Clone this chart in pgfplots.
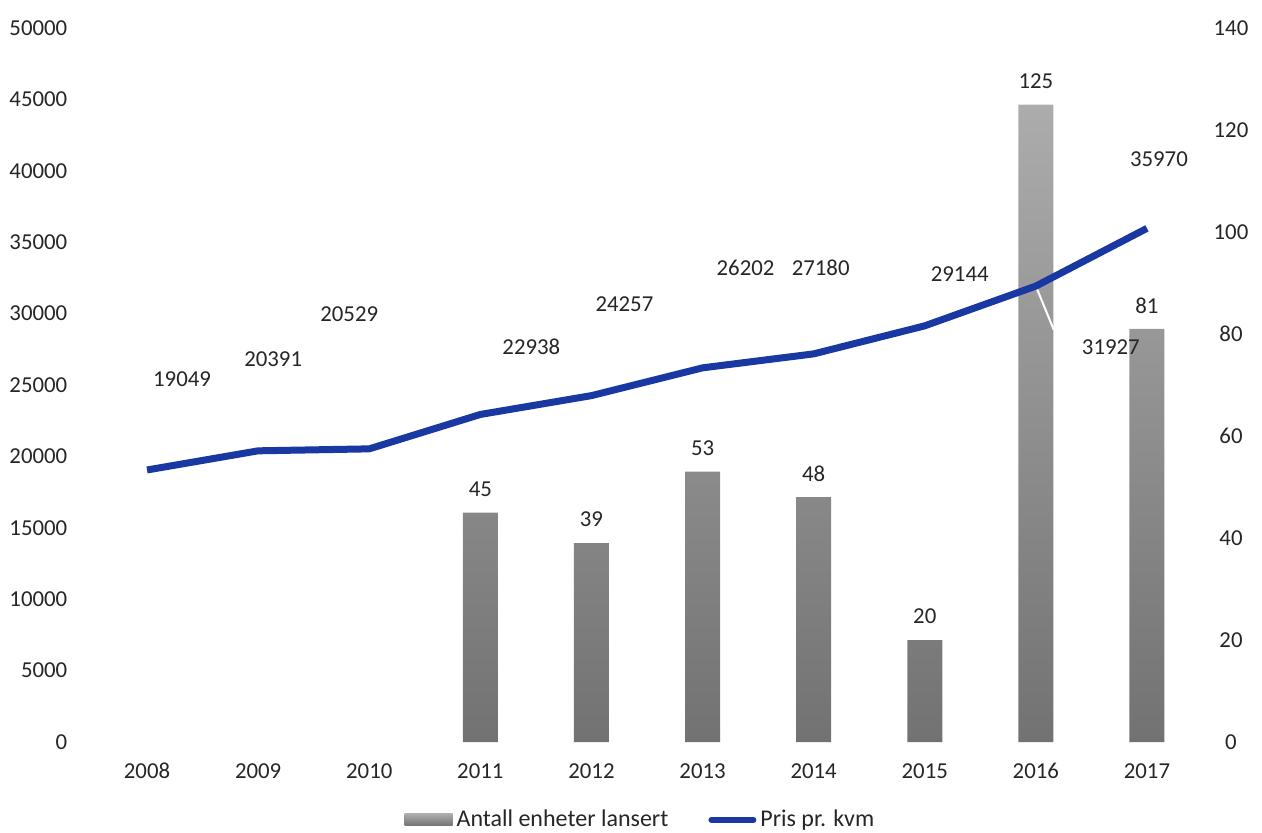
\documentclass[border=0pt]{standalone}
\usepackage{pgfplots}
\usepackage{pgfplotstable}
\pgfplotsset{compat=1.18}
\usepackage{fontspec}
\setmainfont{Carlito}
\definecolor{linecol}{RGB}{26,56,162}
\definecolor{bartop}{RGB}{172,172,172}
\definecolor{barbot}{RGB}{114,114,114}
\definecolor{txt}{RGB}{38,38,38}

\pgfplotstableread{
x y dx dy
0 19049 17.5 45.5
1 20391 7.5 46
2 20529 -10 67.5
3 22938 25.5 34
4 24257 16.5 45.5
5 26202 21.5 50
6 27180 3.5 43
7 29144 17.5 26
8 31927 37.5 -30.5
9 35970 6 34.5
}\pristable

\pgfplotstableread{
x n
3 45
4 39
5 53
6 48
7 20
8 125
9 81
}\bartable

\newcommand{\lblfont}{\fontsize{11.4}{13}\selectfont}
\newcommand{\legfont}{\fontsize{12}{14}\selectfont}

\begin{document}
\begin{tikzpicture}
\useasboundingbox (0,0) rectangle (631pt,416pt);
\pgfplotsset{common/.style={
  scale only axis, width=555.5pt, height=357pt,
  at={(45.75pt,45pt)}, anchor=south west,
  xmin=-0.5, xmax=9.5,
  axis line style={draw=none},
  major tick length=0pt,
  tick label style={font=\lblfont, text=txt},
  /pgf/number format/assume math mode=true,
  /pgf/number format/1000 sep={},
  scaled ticks=false,
}}
% bars on right axis
\begin{axis}[common,
  axis y line*=right, axis x line=none,
  ymin=0, ymax=140, ytick={0,20,...,140},
  yticklabel style={anchor=center, xshift=14.25pt},
]
\addplot[ybar, bar width=17.5pt, draw=none, top color=bartop, bottom color=barbot,
  nodes near coords,
  nodes near coords style={anchor=center, yshift=11.75pt, text=txt, font=\lblfont}]
  table[x=x, y=n]{\bartable};
\end{axis}
% line on left axis
\begin{axis}[common,
  axis y line*=left, axis x line*=bottom,
  ymin=0, ymax=50000, ytick={0,5000,...,50000},
  xtick={0,...,9},
  xticklabels={2008,2009,2010,2011,2012,2013,2014,2015,2016,2017},
  yticklabel style={anchor=east, xshift=-8.6pt},
  xticklabel style={anchor=north, yshift=-7.3pt, text height=7.2pt, text depth=0pt},
  legend columns=2,
  legend style={at={(0.495,-0.109)}, anchor=center, draw=none, fill=none,
    font=\legfont, text=txt,
    /tikz/every even column/.append style={column sep=18pt}},
]
\addlegendimage{legend image code/.code={\shade[draw=none, top color=bartop, bottom color=barbot] (0pt,-3pt) rectangle (24pt,3pt);}}
\addlegendentry{Antall enheter lansert}
\draw[white, line width=1pt] (axis cs:8,31927) -- (axis cs:8.162,28852);
\addplot[linecol, line width=3.5pt, line join=round, mark=none,
  legend image code/.code={\draw[linecol, line width=3pt, line cap=round] (0pt,0pt) -- (21pt,0pt);},
  nodes near coords,
  visualization depends on={\thisrow{dx} \as \dx},
  visualization depends on={\thisrow{dy} \as \dy},
  nodes near coords style={anchor=center, xshift=\dx pt, yshift=\dy pt, text=txt, font=\lblfont}]
  table[x=x, y=y]{\pristable};
\addlegendentry[xshift=-3pt]{Pris pr. kvm}
\end{axis}
\end{tikzpicture}
\end{document}
